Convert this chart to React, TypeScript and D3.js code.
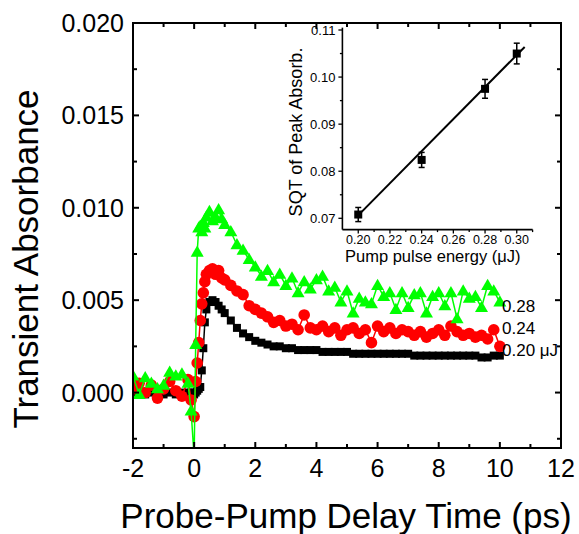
import React from "react";
import * as d3 from "d3";

const delays = [-2.0, -1.8, -1.6, -1.4, -1.2, -1.0, -0.8, -0.6, -0.4, -0.2, -0.1, 0.0,
  0.05, 0.1, 0.15, 0.2, 0.25, 0.3, 0.35, 0.4, 0.5, 0.6, 0.7, 0.8, 0.9,
  1.0, 1.2, 1.4, 1.6, 1.8, 2.0, 2.2, 2.4, 2.6, 2.8, 3.0, 3.2, 3.4, 3.6, 3.8,
  4.0, 4.2, 4.4, 4.6, 4.8, 5.0, 5.2, 5.4, 5.6, 5.8, 6.0, 6.2, 6.4, 6.6, 6.8,
  7.0, 7.2, 7.4, 7.6, 7.8, 8.0, 8.2, 8.4, 8.6, 8.8, 9.0, 9.2, 9.4, 9.6, 9.8, 10.0];

const abs020 = [0.0000, 0.0001, -0.0001, 0.0000, 0.0001, -0.0001, 0.0000, -0.0001, 0.0000, 0.0000, 0.0000, -0.0001,
  0.0000, 0.0001, 0.0002, 0.0003, 0.0012, 0.0024, 0.0038, 0.0045, 0.0049, 0.0050, 0.0049, 0.0047, 0.0045,
  0.0043, 0.0039, 0.0035, 0.0032, 0.0030, 0.0028, 0.0027, 0.0026, 0.0025, 0.0025, 0.0024, 0.0024, 0.0023, 0.0023, 0.0023,
  0.0023, 0.0022, 0.0022, 0.0022, 0.0022, 0.0022, 0.0021, 0.0021, 0.0021, 0.0021, 0.0021, 0.0021, 0.0021, 0.0021, 0.0021,
  0.0021, 0.0020, 0.0020, 0.0020, 0.0020, 0.0020, 0.0020, 0.0020, 0.0020, 0.0020, 0.0020, 0.0020, 0.0019, 0.0019, 0.0020, 0.0020];

const abs024 = [0.0002, 0.0005, 0.0000, 0.0004, -0.0003, 0.0002, 0.0006, 0.0001, -0.0002, 0.0007, -0.0004, -0.0013,
  0.0006, 0.0016, 0.0027, 0.0039, 0.0048, 0.0054, 0.0060, 0.0064, 0.0066, 0.0067, 0.0064, 0.0066, 0.0062,
  0.0061, 0.0058, 0.0055, 0.0053, 0.0047, 0.0045, 0.0043, 0.0041, 0.0038, 0.0039, 0.0036, 0.0037, 0.0034, 0.0042, 0.0035,
  0.0034, 0.0036, 0.0033, 0.0035, 0.0031, 0.0034, 0.0035, 0.0032, 0.0034, 0.0027, 0.0036, 0.0033, 0.0035, 0.0032, 0.0034,
  0.0033, 0.0031, 0.0033, 0.0030, 0.0032, 0.0034, 0.0031, 0.0036, 0.0033, 0.0031, 0.0032, 0.0030, 0.0031, 0.0029, 0.0034, 0.0025];

const abs028 = [0.0009, -0.0001, 0.0008, 0.0005, 0.0002, 0.0004, 0.0011, 0.0009, 0.0010, 0.0005, -0.0010, -0.0035,
  0.0026, 0.0076, 0.0089, 0.0090, 0.0087, 0.0092, 0.0089, 0.0095, 0.0098, 0.0093, 0.0095, 0.0099, 0.0094,
  0.0091, 0.0087, 0.0080, 0.0077, 0.0072, 0.0068, 0.0063, 0.0066, 0.0060, 0.0064, 0.0058, 0.0062, 0.0054, 0.0060, 0.0056,
  0.0061, 0.0063, 0.0055, 0.0057, 0.0049, 0.0055, 0.0043, 0.0051, 0.0049, 0.0048, 0.0058, 0.0052, 0.0054, 0.0045, 0.0054,
  0.0046, 0.0053, 0.0054, 0.0043, 0.0052, 0.0054, 0.0047, 0.0054, 0.0040, 0.0055, 0.0051, 0.0052, 0.0046, 0.0058, 0.0055, 0.0049];

const seriesLabels = ["0.20 \u03bcJ", "0.24", "0.28"];

const xTicks = [-2, 0, 2, 4, 6, 8, 10, 12];
const xMinorTicks = [-1, 1, 3, 5, 7, 9, 11];
const yTicks = [0, 0.005, 0.01, 0.015, 0.02];
const yTickLabels = ["0.000", "0.005", "0.010", "0.015", "0.020"];
const yMinorTicks = [-0.0025, 0.0025, 0.0075, 0.0125, 0.0175];

// inset
const energies = [0.20, 0.24, 0.28, 0.30];
const sqtPeak = [0.0708, 0.0824, 0.0975, 0.1050];
const sqtErr = [0.0015, 0.0016, 0.0020, 0.0022];
const fitX = [0.199, 0.305];
const fitY = [0.0703, 0.1064];
const insetXTicks = [0.20, 0.22, 0.24, 0.26, 0.28, 0.30];
const insetXTickLabels = ["0.20", "0.22", "0.24", "0.26", "0.28", "0.30"];
const insetXMinor = [0.21, 0.23, 0.25, 0.27, 0.29, 0.31];
const insetYTicks = [0.07, 0.08, 0.09, 0.10, 0.11];
const insetYTickLabels = ["0.07", "0.08", "0.09", "0.10", "0.11"];
const insetYMinor = [0.075, 0.085, 0.095, 0.105];
const insetXTitle = "Pump pulse energy (\u03bcJ)";
const insetYTitle = "SQT of Peak Absorb.";

const FONT = "'Liberation Sans', Arial, Helvetica, sans-serif";

export default function App() {
  const L = 133, R = 561, T = 23, B = 448;
  const x = d3.scaleLinear().domain([-2, 12]).range([L, R]);
  const y = d3.scaleLinear().domain([-0.003, 0.02]).range([B, T]);

  const ix = d3.scaleLinear().domain([0.19, 0.31]).range([342.4, 532.6]);
  const iy = d3.scaleLinear().domain([0.07, 0.11]).range([218.3, 30]);
  const iL = ix(0.19), iB = iy(0.0676), iTop = iy(0.1105), iR = ix(0.31);

  const mkLine = (vals: number[]) =>
    d3.line<number>().x((_, i) => x(delays[i])).y((v) => y(v))(vals) || "";

  const triPath = (cx: number, cy: number, s: number) => {
    const h = s * 0.866;
    return `M${cx},${cy - h * 0.6}L${cx + s / 2},${cy + h * 0.4}L${cx - s / 2},${cy + h * 0.4}Z`;
  };

  return (
    <svg width={579} height={534} style={{ position: "absolute", left: 0, top: 0, background: "#fff" }}
      fontFamily={FONT}>
      <defs>
        <clipPath id="plotClip">
          <rect x={L} y={T} width={R - L} height={B - T} />
        </clipPath>
      </defs>
      <rect x={0} y={0} width={579} height={534} fill="#fff" />

      <g clipPath="url(#plotClip)">
        <path d={mkLine(abs020)} fill="none" stroke="#000" strokeWidth={1.5} />
        {abs020.map((v, i) => (
          <rect key={"b" + i} x={x(delays[i]) - 4} y={y(v) - 4} width={8} height={8} fill="#000" />
        ))}
        <path d={mkLine(abs024)} fill="none" stroke="#ff0000" strokeWidth={1.5} />
        {abs024.map((v, i) => (
          <circle key={"r" + i} cx={x(delays[i])} cy={y(v)} r={5.8} fill="#ff0000" />
        ))}
        <path d={mkLine(abs028)} fill="none" stroke="#00ff00" strokeWidth={1.5} />
        {abs028.map((v, i) => (
          <path key={"g" + i} d={triPath(x(delays[i]), y(v), 13)} fill="#00ff00" />
        ))}
      </g>

      <text x={502} y={312} fontSize={17} fill="#000">{seriesLabels[2]}</text>
      <text x={502} y={334} fontSize={17} fill="#000">{seriesLabels[1]}</text>
      <text x={502} y={356} fontSize={17} fill="#000">{seriesLabels[0]}</text>

      <g>
        <line x1={iL} y1={iB} x2={iR} y2={iB} stroke="#000" strokeWidth={1.6} />
        <line x1={iL} y1={iB} x2={iL} y2={iTop} stroke="#000" strokeWidth={1.6} />
        {insetXTicks.map((t, i) => (
          <g key={"ixt" + i}>
            <line x1={ix(t)} x2={ix(t)} y1={iB} y2={iB + 4} stroke="#000" strokeWidth={1.3} />
            <text x={ix(t)} y={iB + 14} fontSize={12.5} textAnchor="middle">{insetXTickLabels[i]}</text>
          </g>
        ))}
        {insetXMinor.map((t, i) => (
          <line key={"ixm" + i} x1={ix(t)} x2={ix(t)} y1={iB} y2={iB + 2.5} stroke="#000" strokeWidth={1.3} />
        ))}
        {insetYTicks.map((t, i) => (
          <g key={"iyt" + i}>
            <line x1={iL - 4} x2={iL} y1={iy(t)} y2={iy(t)} stroke="#000" strokeWidth={1.3} />
            <text x={iL - 7} y={iy(t)} dy="0.36em" fontSize={13} textAnchor="end">{insetYTickLabels[i]}</text>
          </g>
        ))}
        {insetYMinor.map((t, i) => (
          <line key={"iym" + i} x1={iL - 2.5} x2={iL} y1={iy(t)} y2={iy(t)} stroke="#000" strokeWidth={1.3} />
        ))}
        <text x={345} y={262} fontSize={16.5}>{insetXTitle}</text>
        <text transform={`translate(302,132) rotate(-90)`} fontSize={18} textAnchor="middle">{insetYTitle}</text>
        <line x1={ix(fitX[0])} y1={iy(fitY[0])} x2={ix(fitX[1])} y2={iy(fitY[1])} stroke="#000" strokeWidth={2} />
        {energies.map((e, i) => (
          <g key={"ip" + i}>
            <line x1={ix(e)} x2={ix(e)} y1={iy(sqtPeak[i] - sqtErr[i])} y2={iy(sqtPeak[i] + sqtErr[i])} stroke="#000" strokeWidth={1.5} />
            <line x1={ix(e) - 3} x2={ix(e) + 3} y1={iy(sqtPeak[i] - sqtErr[i])} y2={iy(sqtPeak[i] - sqtErr[i])} stroke="#000" strokeWidth={1.5} />
            <line x1={ix(e) - 3} x2={ix(e) + 3} y1={iy(sqtPeak[i] + sqtErr[i])} y2={iy(sqtPeak[i] + sqtErr[i])} stroke="#000" strokeWidth={1.5} />
            <rect x={ix(e) - 4} y={iy(sqtPeak[i]) - 4} width={8} height={8} fill="#000" />
          </g>
        ))}
      </g>

      <rect x={L} y={T} width={R - L} height={B - T} fill="none" stroke="#000" strokeWidth={2} />
      {xTicks.map((t, i) => (
        <g key={"xt" + i}>
          <line x1={x(t)} x2={x(t)} y1={B} y2={B - 6} stroke="#000" strokeWidth={2} />
          <line x1={x(t)} x2={x(t)} y1={T} y2={T + 6} stroke="#000" strokeWidth={2} />
          <text x={x(t)} y={477} fontSize={25} textAnchor="middle">{String(t)}</text>
        </g>
      ))}
      {xMinorTicks.map((t, i) => (
        <g key={"xm" + i}>
          <line x1={x(t)} x2={x(t)} y1={B} y2={B - 4} stroke="#000" strokeWidth={2} />
          <line x1={x(t)} x2={x(t)} y1={T} y2={T + 4} stroke="#000" strokeWidth={2} />
        </g>
      ))}
      {yTicks.map((t, i) => (
        <g key={"yt" + i}>
          <line x1={L} x2={L + 6} y1={y(t)} y2={y(t)} stroke="#000" strokeWidth={2} />
          <line x1={R} x2={R - 6} y1={y(t)} y2={y(t)} stroke="#000" strokeWidth={2} />
          <text x={124} y={y(t)} dy="0.36em" fontSize={25} textAnchor="end">{yTickLabels[i]}</text>
        </g>
      ))}
      {yMinorTicks.map((t, i) => (
        <g key={"ym" + i}>
          <line x1={L} x2={L + 4} y1={y(t)} y2={y(t)} stroke="#000" strokeWidth={2} />
          <line x1={R} x2={R - 4} y1={y(t)} y2={y(t)} stroke="#000" strokeWidth={2} />
        </g>
      ))}

      <text x={346} y={528} fontSize={35} textAnchor="middle">Probe-Pump Delay Time (ps)</text>
      <text transform="translate(38,259) rotate(-90)" fontSize={35} textAnchor="middle">Transient Absorbance</text>
    </svg>
  );
}
